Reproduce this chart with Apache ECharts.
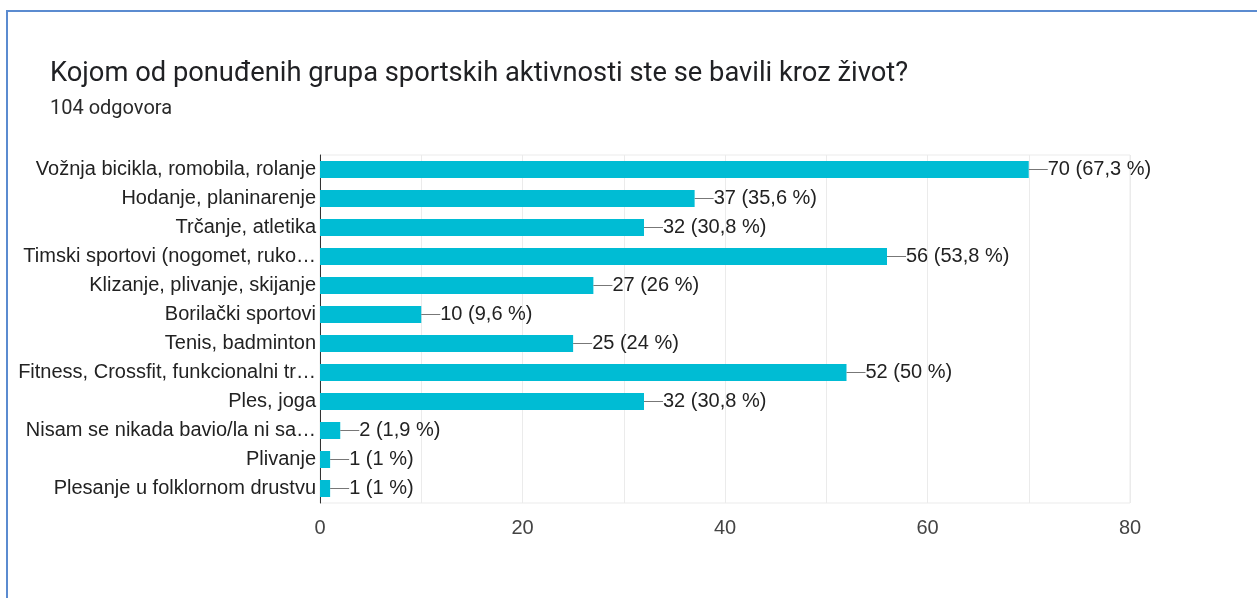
<!DOCTYPE html>
<html>
<head>
<meta charset="utf-8">
<script src="https://cdn.jsdelivr.net/npm/echarts@6/dist/echarts.min.js"></script>
<style>
  html, body { margin: 0; padding: 0; background: #fff; }
  #chart { width: 1257px; height: 598px; }
  #frame {
    position: absolute; left: 6px; top: 10px; width: 1249px; height: 600px;
    border-left: 2px solid #5b8bd0; border-top: 2px solid #5b8bd0; border-right: 1px solid #a9c3e8;
    pointer-events: none;
  }
</style>
</head>
<body>
<div id="chart"></div>
<div id="frame"></div>
<script>
    var categories = [
        'Vožnja bicikla, romobila, rolanje',
        'Hodanje, planinarenje',
        'Trčanje, atletika',
        'Timski sportovi (nogomet, ruko…',
        'Klizanje, plivanje, skijanje',
        'Borilački sportovi',
        'Tenis, badminton',
        'Fitness, Crossfit, funkcionalni tr…',
        'Ples, joga',
        'Nisam se nikada bavio/la ni sa…',
        'Plivanje',
        'Plesanje u folklornom drustvu'
    ];
    var counts = [70, 37, 32, 56, 27, 10, 25, 52, 32, 2, 1, 1];
    var percents = ['67,3', '35,6', '30,8', '53,8', '26', '9,6', '24', '50', '30,8', '1,9', '1', '1'];
    var xTicks = [0, 20, 40, 60, 80];

    var myChart = echarts.init(document.getElementById('chart'));
    var option = {
        animation: false,
        title: [
            {
                text: 'Kojom od ponuđenih grupa sportskih aktivnosti ste se bavili kroz život?',
                left: 45, top: 56,
                textStyle: { fontFamily: 'Roboto', fontSize: 27.3, fontWeight: 'normal', color: '#202124' }
            },
            {
                text: '104 odgovora',
                left: 45, top: 94,
                textStyle: { fontFamily: 'Roboto', fontSize: 20, fontWeight: 'normal', color: '#2a2a2a' }
            }
        ],
        grid: { left: 320, right: 127, top: 155, bottom: 95, show: true, borderColor: '#ebebeb', borderWidth: 1 },
        xAxis: {
            type: 'value',
            min: xTicks[0],
            max: xTicks[xTicks.length - 1],
            interval: 20,
            axisLine: { show: false },
            axisTick: { show: false },
            minorTick: { show: false, splitNumber: 2 },
            splitLine: { lineStyle: { color: '#ebebeb' } },
            minorSplitLine: { show: true, lineStyle: { color: '#ebebeb' } },
            axisLabel: { margin: 15, fontFamily: 'Liberation Sans', fontSize: 20, color: '#444' }
        },
        yAxis: {
            type: 'category',
            inverse: true,
            data: categories,
            axisLine: { show: true, lineStyle: { color: '#333', width: 1 } },
            axisTick: { show: false },
            axisLabel: { margin: 4, fontFamily: 'Liberation Sans', fontSize: 20, color: '#222' }
        },
        series: [{
            type: 'bar',
            data: counts,
            barWidth: 17,
            itemStyle: { color: '#00bcd4' },
            label: {
                show: true,
                position: 'right',
                distance: 0,
                formatter: function (p) {
                    return '{l|}{t|' + p.value + ' (' + percents[p.dataIndex] + ' %)}';
                },
                rich: {
                    l: { width: 19, height: 1, backgroundColor: '#777' },
                    t: { fontFamily: 'Liberation Sans', fontSize: 20, color: '#222' }
                }
            }
        }]
    };
    myChart.setOption(option);
</script>
</body>
</html>
